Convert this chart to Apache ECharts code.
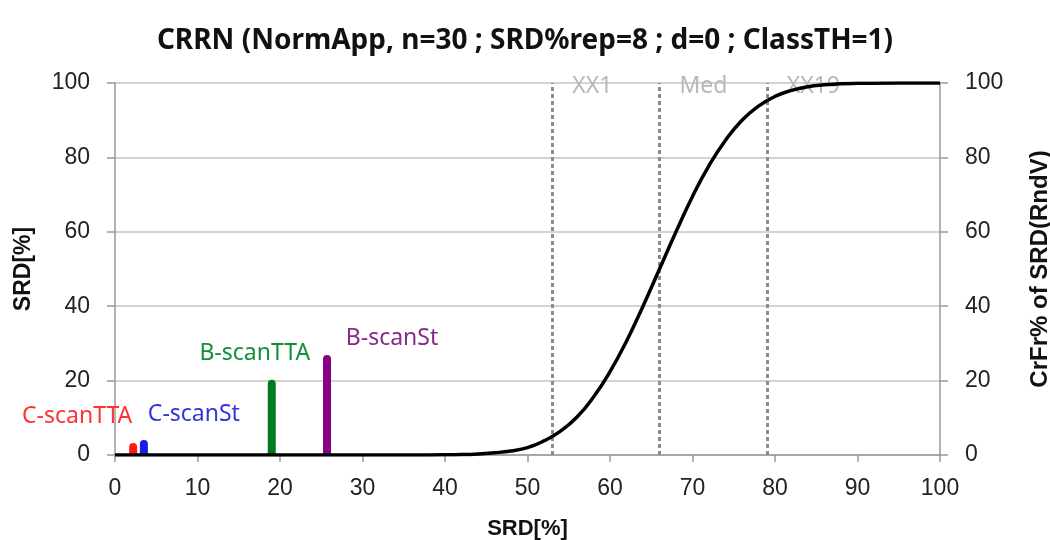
<!DOCTYPE html>
<html>
<head>
<meta charset="utf-8">
<script src="https://cdn.jsdelivr.net/npm/echarts@6/dist/echarts.min.js"></script>
<style>
html, body { margin: 0; padding: 0; background: #fff; }
#chart { width: 1050px; height: 540px; }
</style>
</head>
<body>
<div id="chart"></div>
<script>
// bars: position on x, height
var barNames = ['C-scanTTA', 'C-scanSt', 'B-scanTTA', 'B-scanSt'];
var barX = [2.2, 3.5, 19.0, 25.7];
var barY = [3.2, 4.0, 20.2, 26.9];
var barColors = ['#ff1a1a', '#1a1aee', '#007a1e', '#880088'];
var labelColors = ['#ff3333', '#3333dd', '#10903a', '#8a2a8a'];
var labelOffsets = [[-56, -10], [50, -9], [-17, -10], [65, 0]];

// cumulative curve
var curveX = [0, 10, 20, 30, 36, 40, 42, 44, 46, 48, 50, 52, 54, 56, 58, 60, 62, 64, 66, 68, 70, 72, 74, 76, 78, 80, 82, 84, 86, 88, 90, 95, 100];
var curveY = [0, 0, 0, 0, 0, 0.05, 0.12, 0.3, 0.6, 1.1, 2.0, 3.8, 6.4, 10.2, 15.6, 22.4, 30.6, 40.0, 50.0, 60.0, 69.5, 77.8, 84.6, 90.0, 93.8, 96.4, 98.0, 99.0, 99.5, 99.8, 99.9, 100, 100];

// vertical reference lines
var vlineNames = ['XX1', 'Med', 'XX19'];
var vlineX = [53, 66, 79];

var myChart = echarts.init(document.getElementById('chart'));

var barData = [];
for (var i = 0; i < barX.length; i++) {
	barData.push({
		value: [barX[i], barY[i]],
		itemStyle: { color: barColors[i], borderRadius: [4, 4, 0, 0] },
		label: {
			show: true,
			position: 'top',
			formatter: barNames[i],
			color: labelColors[i],
			offset: labelOffsets[i],
			fontSize: 23,
			fontFamily: 'Noto Sans'
		}
	});
}

var curveData = [];
for (var j = 0; j < curveX.length; j++) {
	curveData.push([curveX[j], curveY[j]]);
}

var axisFont = { fontSize: 23, color: '#222', fontFamily: 'Liberation Sans' };
var nameFont = { fontSize: 23, fontWeight: 'bold', color: '#111', fontFamily: 'Liberation Sans' };

var option = {
	animation: false,
	backgroundColor: '#fff',
	title: {
		text: 'CRRN (NormApp, n=30 ; SRD%rep=8 ; d=0 ; ClassTH=1)',
		left: 'center',
		top: 22,
		textStyle: { fontSize: 28, fontWeight: 'bold', color: '#111', fontFamily: 'Noto Sans' }
	},
	grid: { left: 115, right: 110, top: 83, bottom: 85, outerBoundsMode: 'none' },
	xAxis: {
		type: 'value',
		min: 0, max: 100, interval: 10,
		name: 'SRD[%]',
		nameLocation: 'middle',
		nameGap: 63,
		nameTextStyle: { fontSize: 22, fontWeight: 'bold', color: '#111', fontFamily: 'Liberation Sans' },
		axisLine: { show: true, lineStyle: { color: '#999', width: 1.5 } },
		axisTick: { show: true, length: 7, lineStyle: { color: '#999', width: 1.5 } },
		axisLabel: Object.assign({ margin: 22 }, axisFont),
		splitLine: { show: false }
	},
	yAxis: [{
		type: 'value',
		min: 0, max: 100, interval: 20,
		name: 'SRD[%]',
		nameLocation: 'middle',
		nameGap: 80,
		nameTextStyle: nameFont,
		axisLine: { show: true, lineStyle: { color: '#999', width: 1.5 } },
		axisTick: { show: true, length: 8, lineStyle: { color: '#999', width: 1.5 } },
		axisLabel: Object.assign({ margin: 25 }, axisFont),
		splitLine: { show: true, lineStyle: { color: '#c4c4c4', width: 1.5 } }
	}, {
		type: 'value',
		position: 'right',
		min: 0, max: 100, interval: 20,
		name: 'CrFr% of SRD(RndV)',
		nameLocation: 'middle',
		nameGap: 88,
		nameTextStyle: { fontSize: 24, fontWeight: 'bold', color: '#111', fontFamily: 'Liberation Sans' },
		axisLine: { show: true, lineStyle: { color: '#999', width: 1.5 } },
		axisTick: { show: true, length: 8, lineStyle: { color: '#999', width: 1.5 } },
		axisLabel: Object.assign({ margin: 25 }, axisFont),
		splitLine: { show: false }
	}],
	series: [{
		name: 'bars',
		type: 'bar',
		barWidth: 8,
		data: barData
	}, {
		name: 'CrFr',
		type: 'line',
		yAxisIndex: 1,
		smooth: true,
		symbol: 'none',
		lineStyle: { color: '#000', width: 3.5 },
		data: curveData,
		z: 5,
		markLine: {
			silent: true,
			symbol: 'none',
			label: { show: false },
			lineStyle: { color: '#8c8c8c', width: 3, type: [4, 3] },
			data: vlineX.map(function (v) { return { xAxis: v }; })
		}
	}]
};

myChart.setOption(option);

// labels of the reference lines at the top
var texts = [];
for (var k = 0; k < vlineX.length; k++) {
	var px = myChart.convertToPixel({ xAxisIndex: 0 }, vlineX[k]);
	texts.push({
		type: 'text',
		left: px + 20,
		top: 75,
		z: 1,
		style: { text: vlineNames[k], fill: '#b8b8b8', fontSize: 23, fontFamily: 'Noto Sans' }
	});
}
myChart.setOption({ graphic: texts });
</script>
</body>
</html>
